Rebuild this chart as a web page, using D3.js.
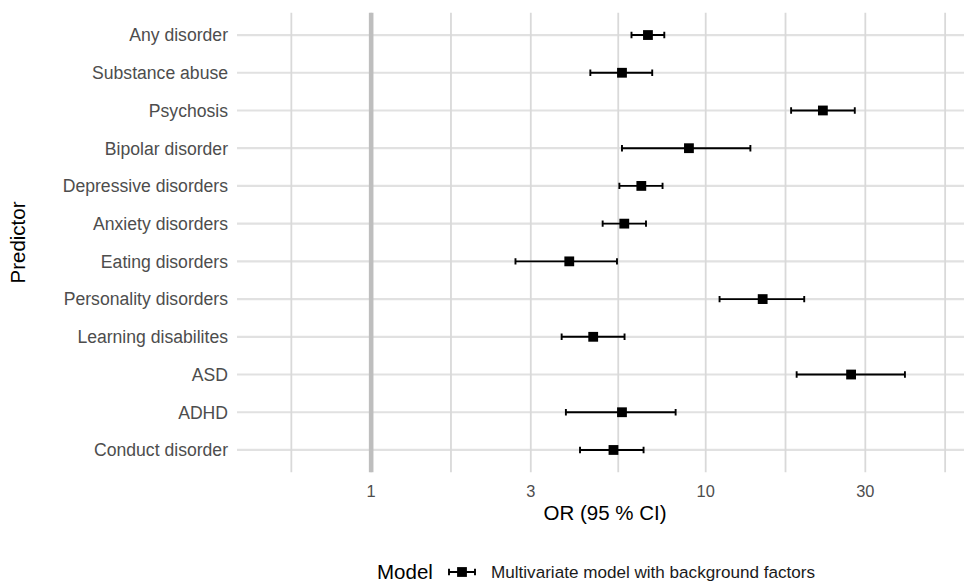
<!DOCTYPE html>
<html>
<head>
<meta charset="utf-8">
<script src="https://cdn.jsdelivr.net/npm/d3@7"></script>
<style>
  body { margin: 0; background: #fff; }
  svg { display: block; font-family: "Liberation Sans", Arial, sans-serif; }
</style>
</head>
<body>
<svg id="chart" width="964" height="584"></svg>
<script>
// predictors, top to bottom
const predictors = ['Any disorder', 'Substance abuse', 'Psychosis', 'Bipolar disorder',
  'Depressive disorders', 'Anxiety disorders', 'Eating disorders', 'Personality disorders',
  'Learning disabilites', 'ASD', 'ADHD', 'Conduct disorder'];
const or_est = [6.72, 5.62, 22.4, 8.91, 6.42, 5.71, 3.91, 14.8, 4.61, 27.2, 5.62, 5.30];
const ci_low = [6.00, 4.52, 18.0, 5.62, 5.52, 4.92, 2.70, 11.0, 3.71, 18.7, 3.82, 4.21];
const ci_high = [7.52, 6.92, 27.9, 13.6, 7.43, 6.63, 5.43, 19.7, 5.72, 39.4, 8.13, 6.52];
const x_ticks = [1, 3, 10, 30];
const x_limits = [0.5, 50];
const model_name = 'Multivariate model with background factors';

const svg = d3.select('#chart');

const panel = { left: 237, right: 973, top: 12.4, bottom: 472.6 };

// ggplot-like 5% expansion in log space
const lg = x_limits.map(Math.log10);
const ex = (lg[1] - lg[0]) * 0.05;
const x = d3.scaleLog()
  .domain([Math.pow(10, lg[0] - ex), Math.pow(10, lg[1] + ex)])
  .range([panel.left, panel.right]);

const y = d3.scalePoint()
  .domain(predictors)
  .range([panel.top, panel.bottom])
  .padding(0.6);

const data = predictors.map((p, i) => ({ name: p, est: or_est[i], lo: ci_low[i], hi: ci_high[i] }));

// minor breaks the way ggplot does it (midpoints in log space)
const lb = x_ticks.map(Math.log10);
const bd = lb[1] - lb[0];
const ext = [lb[0] - bd, ...lb, lb[lb.length - 1] + bd];
const minor = [];
for (let i = 0; i < ext.length - 1; i++) minor.push(Math.pow(10, (ext[i] + ext[i + 1]) / 2));

svg.append('defs').append('clipPath').attr('id', 'pclip')
  .append('rect')
  .attr('x', panel.left).attr('y', panel.top)
  .attr('width', panel.right - panel.left).attr('height', panel.bottom - panel.top);

const grid = svg.append('g').attr('clip-path', 'url(#pclip)');

// horizontal grid
grid.selectAll('.hgrid')
  .data(predictors)
  .enter()
  .append('line')
  .attr('class', 'hgrid')
  .attr('x1', panel.left).attr('x2', panel.right)
  .attr('y1', d => y(d)).attr('y2', d => y(d))
  .attr('stroke', '#e1e1e1')
  .attr('stroke-width', 2.2);

// vertical grid (major + minor)
grid.selectAll('.vgrid')
  .data(x_ticks.concat(minor))
  .enter()
  .append('line')
  .attr('class', 'vgrid')
  .attr('x1', d => x(d)).attr('x2', d => x(d))
  .attr('y1', panel.top).attr('y2', panel.bottom)
  .attr('stroke', '#d9d9d9')
  .attr('stroke-width', 1.8);

// reference line at OR = 1
grid.append('line')
  .attr('x1', x(1)).attr('x2', x(1))
  .attr('y1', panel.top).attr('y2', panel.bottom)
  .attr('stroke', '#bebebe')
  .attr('stroke-width', 4.6);

// error bars
const capH = 3.2;
const bars = svg.append('g');
bars.selectAll('.ci')
  .data(data)
  .enter()
  .append('path')
  .attr('class', 'ci')
  .attr('d', d => `M${x(d.lo)},${y(d.name) - capH}V${y(d.name) + capH}M${x(d.lo)},${y(d.name)}H${x(d.hi)}M${x(d.hi)},${y(d.name) - capH}V${y(d.name) + capH}`)
  .attr('fill', 'none')
  .attr('stroke', '#000')
  .attr('stroke-width', 1.9);

const sq = 9.8;
bars.selectAll('.pt')
  .data(data)
  .enter()
  .append('rect')
  .attr('class', 'pt')
  .attr('x', d => x(d.est) - sq / 2)
  .attr('y', d => y(d.name) - sq / 2)
  .attr('width', sq).attr('height', sq)
  .attr('fill', '#000');

// y axis labels
svg.append('g').selectAll('text')
  .data(predictors)
  .enter()
  .append('text')
  .attr('x', 228)
  .attr('y', d => y(d))
  .attr('dy', '0.36em')
  .attr('text-anchor', 'end')
  .attr('font-size', 17.6)
  .attr('fill', '#4d4d4d')
  .text(d => d);

// x axis labels
svg.append('g').selectAll('text')
  .data(x_ticks)
  .enter()
  .append('text')
  .attr('x', d => x(d))
  .attr('y', 496.5)
  .attr('text-anchor', 'middle')
  .attr('font-size', 16.4)
  .attr('fill', '#4d4d4d')
  .text(d => d);

// axis titles
svg.append('text')
  .attr('x', (panel.left + panel.right) / 2)
  .attr('y', 519.5)
  .attr('text-anchor', 'middle')
  .attr('font-size', 20.5)
  .attr('fill', '#000')
  .text('OR (95 % CI)');

svg.append('text')
  .attr('transform', `translate(25,${(panel.top + panel.bottom) / 2}) rotate(-90)`)
  .attr('text-anchor', 'middle')
  .attr('font-size', 20.5)
  .attr('fill', '#000')
  .text('Predictor');

// legend
const leg = svg.append('g').attr('transform', 'translate(0,572)');
leg.append('text')
  .attr('x', 377).attr('y', 7)
  .attr('font-size', 20.5)
  .attr('fill', '#000')
  .text('Model');
leg.append('path')
  .attr('d', `M449,-${capH}V${capH}M449,0H475M475,-${capH}V${capH}`)
  .attr('stroke', '#000').attr('stroke-width', 1.9).attr('fill', 'none');
leg.append('rect')
  .attr('x', 462 - sq / 2).attr('y', -sq / 2)
  .attr('width', sq).attr('height', sq)
  .attr('fill', '#000');
leg.append('text')
  .attr('x', 491).attr('y', 6)
  .attr('font-size', 17.1)
  .attr('fill', '#1a1a1a')
  .text(model_name);
</script>
</body>
</html>
